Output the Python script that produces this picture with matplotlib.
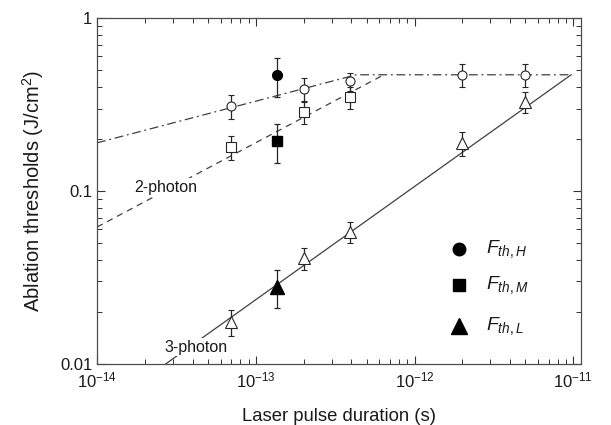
import matplotlib
matplotlib.use("Agg")
import matplotlib.pyplot as plt
from matplotlib.ticker import FixedLocator, LogLocator, FuncFormatter, LogFormatterMathtext, NullFormatter

plt.rcParams["font.family"] = ["Liberation Sans", "DejaVu Sans"]
plt.rcParams["mathtext.fontset"] = "custom"
plt.rcParams["mathtext.rm"] = "Liberation Sans"
plt.rcParams["mathtext.it"] = "Liberation Sans:italic"
plt.rcParams["axes.unicode_minus"] = False

# pulse durations (s)
tau = [7e-14, 2e-13, 3.9e-13, 2e-12, 5e-12]
tau_fill = [1.35e-13]

# open symbols
f_high = [0.31, 0.39, 0.43, 0.47, 0.47]
f_high_err = [0.05, 0.06, 0.05, 0.07, 0.07]
f_mid = [0.18, 0.285, 0.35]
f_mid_err = [0.028, 0.04, 0.05]
f_low = [0.0175, 0.041, 0.058, 0.19, 0.327]
f_low_err = [0.003, 0.006, 0.008, 0.03, 0.045]

# filled symbols
fill_high = [0.47]
fill_high_err = [0.12]
fill_mid = [0.195]
fill_mid_err = [0.05]
fill_low = [0.028]
fill_low_err = [0.007]

# fit lines (break points)
line_dashdot_x = [1e-14, 4.3e-13, 9.7e-12]
line_dashdot_y = [0.19, 0.47, 0.47]
line_dash_x = [1e-14, 6.4e-13]
line_dash_y = [0.062, 0.47]
line_solid_x = [2.7e-14, 9.7e-12]
line_solid_y = [0.01, 0.47]

x_major = [1e-14, 1e-13, 1e-12, 1e-11]
y_major = [0.01, 0.1, 1]

lc = "0.25"
fig = plt.figure(figsize=(6.11, 4.25), dpi=100)
ax = fig.add_axes([0.159, 0.1435, 0.792, 0.814])

ax.plot(line_dashdot_x, line_dashdot_y, color=lc, lw=0.9, dashes=[7, 3, 1.5, 3])
ax.plot(line_dash_x, line_dash_y, color=lc, lw=0.9, dashes=[5, 4])
ax.plot(line_solid_x, line_solid_y, color=lc, lw=0.9)

eb = dict(ecolor="0.15", elinewidth=0.9, capsize=2.5, capthick=0.9, ls="none")
ax.errorbar(tau, f_high, yerr=f_high_err, marker="o", ms=6.5, mfc="white", mec="0.15", mew=0.8, **eb)
ax.errorbar(tau[:3], f_mid, yerr=f_mid_err, marker="s", ms=6.5, mfc="white", mec="0.15", mew=0.8, **eb)
ax.errorbar(tau, f_low, yerr=f_low_err, marker="^", ms=9, mfc="white", mec="0.15", mew=0.8, **eb)
ax.errorbar(tau_fill, fill_high, yerr=fill_high_err, marker="o", ms=7, mfc="black", mec="black", **eb)
ax.errorbar(tau_fill, fill_mid, yerr=fill_mid_err, marker="s", ms=7, mfc="black", mec="black", **eb)
ax.errorbar(tau_fill, fill_low, yerr=fill_low_err, marker="^", ms=10, mfc="black", mec="black", **eb)

ax.set_xscale("log")
ax.set_yscale("log")
ax.set_xlim(1e-14, 1.12e-11)
ax.set_ylim(0.01, 1)

ax.xaxis.set_major_locator(FixedLocator(x_major))
ax.xaxis.set_minor_locator(LogLocator(base=10, subs=range(2, 10), numticks=20))
ax.xaxis.set_major_formatter(LogFormatterMathtext())
ax.xaxis.set_minor_formatter(NullFormatter())
ax.yaxis.set_major_locator(FixedLocator(y_major))
ax.yaxis.set_major_formatter(FuncFormatter(lambda v, p: "%g" % v))
ax.yaxis.set_minor_formatter(NullFormatter())
ax.tick_params(which="both", direction="in", top=True, right=True, colors="0.2", labelcolor="0.1", labelsize=12)
ax.tick_params(which="major", length=6, width=0.8)
ax.tick_params(which="minor", length=3.5, width=0.7)
ax.tick_params(axis="x", which="major", pad=5)
for s in ax.spines.values():
    s.set_color("0.3")
    s.set_linewidth(0.9)

ax.set_xlabel("Laser pulse duration (s)", fontsize=13.3, color="0.1", labelpad=12)
ax.set_ylabel("Ablation thresholds (J/cm$^2$)", fontsize=14.5, color="0.1", labelpad=10)

wbox = dict(facecolor="white", edgecolor="none", pad=1)
ax.text(2.7e-14, 0.105, "2-photon", fontsize=11.5, color="0.1", va="center", ha="center", bbox=wbox, zorder=5)
ax.text(4.2e-14, 0.0125, "3-photon", fontsize=11.5, color="0.1", va="center", ha="center", bbox=wbox, zorder=5)

# legend drawn as markers + labels
leg_y = [0.046, 0.0286, 0.0166]
leg_m = ["o", "s", "^"]
leg_ms = [9, 8.5, 11]
leg_lab = ["$F_{th,H}$", "$F_{th,M}$", "$F_{th,L}$"]
for yy, mk, ms, lab in zip(leg_y, leg_m, leg_ms, leg_lab):
    ax.plot([1.9e-12], [yy], marker=mk, ms=ms, color="black", ls="none")
    ax.text(2.8e-12, yy, lab, fontsize=14, color="0.1", va="center", ha="left")

fig.savefig("out.png", dpi=100)
